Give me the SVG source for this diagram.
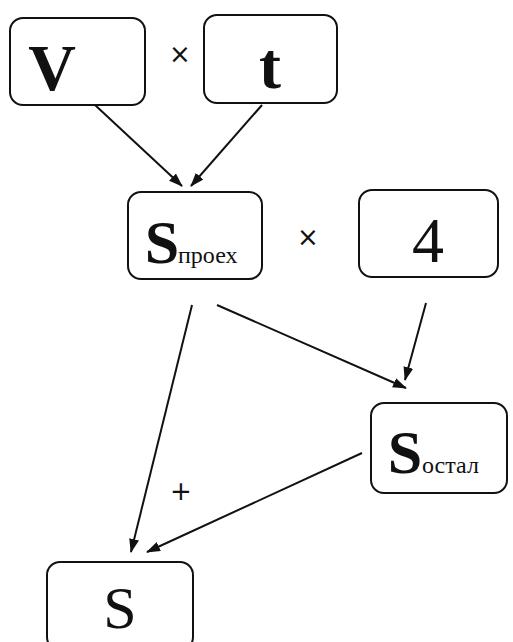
<svg xmlns="http://www.w3.org/2000/svg" width="513" height="642" viewBox="0 0 513 642">
<style>
.box{fill:#fff;stroke:#111;stroke-width:2}
.big{font-family:"Liberation Serif","Times New Roman",serif;fill:#111;text-anchor:middle}
.sub{font-family:"Liberation Serif","Times New Roman",serif;fill:#111;font-size:24px}
.op{font-family:"DejaVu Sans","Liberation Sans",sans-serif;fill:#111;font-size:26px;text-anchor:middle}
.edge{stroke:#111;stroke-width:2;fill:none;marker-end:url(#ah)}
</style>
<defs>
<marker id="ah" viewBox="0 0 14 10" refX="13" refY="5" markerWidth="14" markerHeight="10" markerUnits="userSpaceOnUse" orient="auto">
<path d="M0,0 L14,5 L0,10 Z" fill="#111"/>
</marker>
</defs>
<g id="connectors">
<line class="edge" x1="95" y1="105" x2="182" y2="186"/>
<line class="edge" x1="262" y1="105" x2="191" y2="186"/>
<line class="edge" x1="192" y1="305" x2="131" y2="552"/>
<line class="edge" x1="217" y1="305" x2="406" y2="388"/>
<line class="edge" x1="426" y1="303" x2="405" y2="380"/>
<line class="edge" x1="362" y1="453" x2="147" y2="552"/>
</g>
<g id="node-v">
<rect class="box" x="10" y="18" width="135" height="87" rx="13"/>
<text class="big" x="52" y="90" font-size="66" font-weight="bold">V</text>
</g>
<g id="op-times1"><text class="op" x="180" y="63">×</text></g>
<g id="node-t">
<rect class="box" x="204" y="15" width="133" height="88" rx="13"/>
<text class="big" x="270" y="88" font-size="66" font-weight="bold">t</text>
</g>
<g id="node-sproex">
<rect class="box" x="128" y="192" width="134" height="87" rx="13"/>
<text class="big" x="162" y="263" font-size="62" font-weight="bold">S</text>
<text class="sub" x="178" y="263">проех</text>
</g>
<g id="op-times2"><text class="op" x="308" y="246">×</text></g>
<g id="node-4">
<rect class="box" x="359" y="190" width="139" height="87" rx="13"/>
<text class="big" x="428" y="262" font-size="64">4</text>
</g>
<g id="node-sostal">
<rect class="box" x="371" y="403" width="136" height="90" rx="13"/>
<text class="big" x="405" y="473" font-size="62" font-weight="bold">S</text>
<text class="sub" x="422" y="473">остал</text>
</g>
<g id="op-plus"><text class="op" x="181" y="500" font-size="30">+</text></g>
<g id="node-s">
<rect class="box" x="47" y="562" width="146" height="88" rx="13"/>
<text class="big" x="120" y="628" font-size="60">S</text>
</g>
</svg>
